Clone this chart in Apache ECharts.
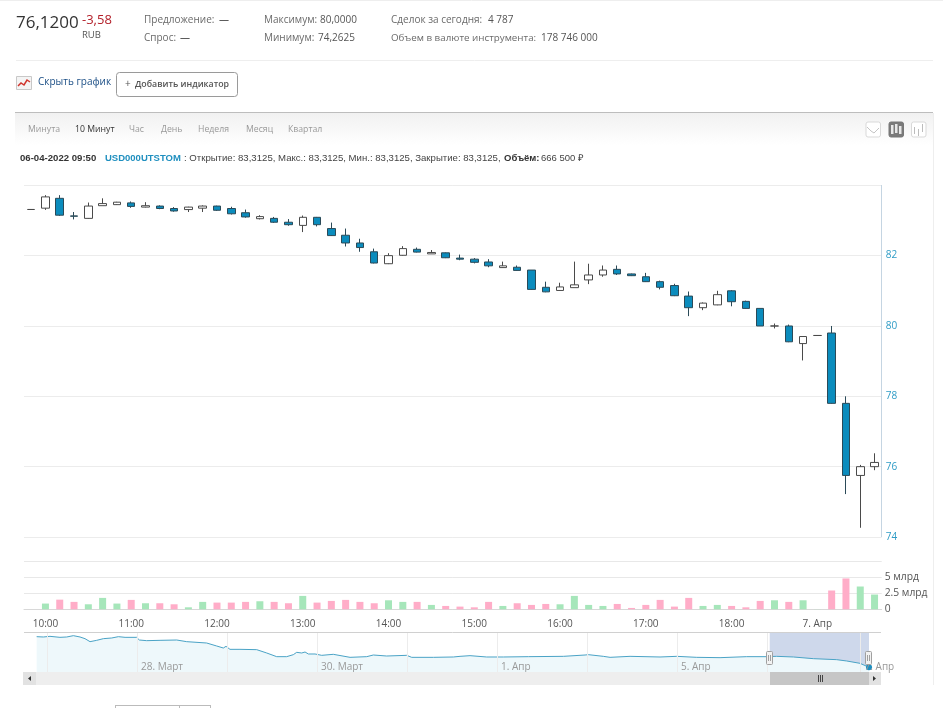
<!DOCTYPE html>
<html>
<head>
<meta charset="utf-8">
<style>html,body{margin:0;padding:0;background:#fff}#chart{width:943px;height:708px}</style>
<script src="https://cdn.jsdelivr.net/npm/echarts@6/dist/echarts.min.js"></script>
</head>
<body>
<div id="chart"></div>
<script>
// 10-minute candles for USD000UTSTOM, 6-7 April 2022
const times = ['09:50','10:00','10:10','10:20','10:30','10:40','10:50','11:00','11:10','11:20','11:30','11:40','11:50','12:00','12:10','12:20','12:30','12:40','12:50','13:00','13:10','13:20','13:30','13:40','13:50','14:00','14:10','14:20','14:30','14:40','14:50','15:00','15:10','15:20','15:30','15:40','15:50','16:00','16:10','16:20','16:30','16:40','16:50','17:00','17:10','17:20','17:30','17:40','17:50','18:00','18:10','18:20','18:30','18:40','18:50','7. Апр','10:00','10:10','10:20','10:30'];
const opens  = [83.3125,83.35,83.63,83.13,83.06,83.42,83.45,83.50,83.38,83.41,83.34,83.31,83.35,83.41,83.34,83.22,83.05,83.06,82.95,82.86,83.09,82.77,82.58,82.36,82.11,81.77,82.01,82.18,82.05,82.08,81.93,81.90,81.82,81.66,81.67,81.59,81.10,81.01,81.09,81.31,81.45,81.61,81.48,81.40,81.26,81.15,80.85,80.52,80.60,81.00,80.70,80.50,80.00,80.00,79.50,79.73,79.80,77.80,75.75,76.00];
const closes = [83.3125,83.67,83.15,83.12,83.41,83.48,83.52,83.40,83.42,83.34,83.27,83.38,83.41,83.29,83.19,83.10,83.11,82.95,82.88,83.09,82.88,82.57,82.36,82.23,81.79,82.00,82.20,82.10,82.09,81.94,81.90,81.81,81.71,81.71,81.58,81.04,80.97,81.11,81.17,81.45,81.59,81.48,81.43,81.26,81.10,80.86,80.52,80.65,80.89,80.69,80.50,80.00,80.00,79.55,79.70,79.73,77.80,75.75,76.00,76.12];
const lows   = [83.3125,83.30,83.13,83.03,83.05,83.42,83.44,83.36,83.37,83.32,83.25,83.24,83.24,83.27,83.17,83.08,83.03,82.93,82.85,82.67,82.83,82.56,82.26,82.11,81.78,81.76,82.00,82.09,82.05,81.93,81.87,81.78,81.67,81.65,81.57,81.03,80.96,81.00,81.09,81.19,81.40,81.45,81.42,81.25,81.04,80.85,80.28,80.45,80.59,80.56,80.49,80.00,79.93,79.54,79.02,79.73,77.79,75.22,74.2625,75.90];
const highs  = [83.3125,83.72,83.72,83.24,83.51,83.63,83.53,83.54,83.52,83.43,83.38,83.39,83.43,83.42,83.39,83.31,83.15,83.10,83.04,83.14,83.10,82.94,82.77,82.48,82.20,82.07,82.27,82.23,82.16,82.09,82.03,81.93,81.90,81.83,81.72,81.59,81.26,81.23,81.83,81.77,81.72,81.72,81.49,81.51,81.29,81.20,80.98,80.67,81.00,81.02,80.72,80.50,80.07,80.04,79.70,79.73,80.00,78.00,76.05,76.38];
// traded volume per candle, billions of roubles
const volumes = [0.0007,0.89,1.5,1.15,0.78,1.77,0.89,1.46,0.94,0.94,0.78,0.31,1.15,1.04,1.04,1.15,1.25,1.15,0.94,2.08,1.04,1.3,1.46,1.15,0.94,1.4,1.15,1.15,0.68,0.52,0.42,0.31,1.15,0.52,0.94,0.68,0.83,0.78,2.08,0.68,0.52,0.83,0.21,0.68,1.46,0.42,1.77,0.52,0.68,0.52,0.31,1.3,1.4,1.15,1.4,0.02,2.92,4.79,3.54,2.29];
const priceTicks = [74,76,78,80,82];
const volumeTicks = {0:'0',2.5:'2.5 млрд',5:'5 млрд'};

// overview strip: trading-day position and price
const navDays = [-0.115,-0.041,0.033,0.144,0.219,0.293,0.367,0.422,0.478,0.552,0.626,0.719,0.793,0.867,0.996,1.026,1.107,1.256,1.441,1.552,1.774,1.885,1.959,1.989,2.033,2.144,2.330,2.441,2.552,2.663,2.737,2.774,2.830,2.867,2.904,2.978,3.052,3.181,3.367,3.552,3.626,3.774,3.996,4.052,4.293,4.515,4.589,4.70,4.885,5.070,5.348,5.737,5.978,6.015,6.181,6.256,6.478,6.811,6.996,7.219,7.478,7.774,7.996,8.107,8.293,8.515,8.774,8.885,9.033,9.133];
const navPrices = [96.41,96.19,96.63,95.97,96.19,97.07,96.19,95.08,93.10,93.98,95.08,95.53,96.41,95.97,95.97,94.20,93.76,93.98,94.20,93.10,92.21,90.23,88.90,90.00,88.02,88.02,87.80,85.59,83.16,83.16,84.48,86.03,85.59,86.25,84.93,84.93,84.04,84.71,82.72,83.16,84.26,83.60,84.04,82.72,82.72,82.94,83.38,83.82,82.94,82.94,83.16,83.38,84.26,84.48,83.38,82.72,83.38,82.94,83.38,82.72,82.50,83.16,83.16,83.38,82.94,81.83,81.17,80.29,78.74,76.12];
const navTickDays = [0,1,2,3,4,5,6,7,8,9.04];
const navTickNames = {1:'28. Март',3:'30. Март',5:'1. Апр',7:'5. Апр',9:'7. Апр'};
const navSelection = [8.03,9.133];

const FONT = '"Open Sans", sans-serif';
const ARIAL = '"Liberation Sans", sans-serif';
const txt = (x, y, text, size, fill, extra) => ({
  type: 'text', x, y, silent: true, z: 20,
  style: Object.assign({text, fontSize: size, fontFamily: FONT, fill, textVerticalAlign: 'middle'}, extra || {})
});
const rect = (x, y, width, height, fill, extra, r) => ({
  type: 'rect', silent: true, z: (extra && extra.z) || 15,
  shape: {x, y, width, height, r: r || 0},
  style: Object.assign({fill}, extra || {})
});
const line = (x1, y1, x2, y2, stroke, w) => ({
  type: 'line', silent: true, z: 16,
  shape: {x1, y1, x2, y2}, style: {stroke, lineWidth: w || 1}
});
const poly = (points, stroke, w) => ({
  type: 'polyline', silent: true, z: 17,
  shape: {points}, style: {stroke, lineWidth: w || 1, fill: 'none'}
});

const handle = x => [
  rect(x - 3.5, 651.5, 6, 13, '#f2f2f2', {stroke: '#a0a0a0', lineWidth: 1, z: 18}, 1),
  {type:'line', silent:true, z:19, shape:{x1:x-1.5,y1:655,x2:x-1.5,y2:661}, style:{stroke:'#a0a0a0'}},
  {type:'line', silent:true, z:19, shape:{x1:x+0.5,y1:655,x2:x+0.5,y2:661}, style:{stroke:'#a0a0a0'}}
];

const furniture = [
  // summary rules
  line(0, 0.5, 943, 0.5, '#eeeeee'),
  line(16, 60.5, 933, 60.5, '#eeeeee'),
  // quote summary
  txt(16, 23, '76,1200', 17, '#333333'),
  txt(82, 20, '-3,58', 13, '#b3202a'),
  txt(82, 35, 'RUB', 9.5, '#555555'),
  txt(144, 20, 'Предложение:', 10, '#6a6a6a'),
  txt(219, 20, '—', 10, '#333333'),
  txt(144, 38, 'Спрос:', 10, '#6a6a6a'),
  txt(180, 38, '—', 10, '#333333'),
  txt(264, 20, 'Максимум:', 10, '#6a6a6a'),
  txt(320, 20, '80,0000', 10, '#555555'),
  txt(264, 38, 'Минимум:', 10, '#6a6a6a'),
  txt(318, 38, '74,2625', 10, '#555555'),
  txt(391, 20, 'Сделок за сегодня:', 10, '#6a6a6a'),
  txt(488, 20, '4 787', 10, '#555555'),
  txt(391, 38, 'Объем в валюте инструмента:', 9.8, '#6a6a6a'),
  txt(541, 38, '178 746 000', 10, '#555555'),
  // hide-chart link with its icon
  rect(16.5, 76.5, 15, 13, '#f4f4f4', {stroke: '#c8c8c8', lineWidth: 1}),
  poly([[18,86],[21,83],[24,85],[27,80],[30,82]], '#d0342c', 1.5),
  txt(38, 82, 'Скрыть график', 10, '#1c4f86'),
  rect(116.5, 72.5, 121, 24, '#ffffff', {stroke: '#9a9a9a', lineWidth: 1}, 3),
  txt(125, 84, '+', 10, '#555555'),
  txt(135, 84, 'Добавить индикатор', 8.8, '#555555', {fontWeight: 600}),
  // period bar
  rect(15, 113, 918, 32, new echarts.graphic.LinearGradient(0, 0, 0, 1, [{offset: 0, color: '#f1f1f1'}, {offset: 1, color: '#ffffff'}]), {z: 5}),
  line(15, 112.5, 933, 112.5, '#bdbdbd'),
  line(933.5, 113, 933.5, 685, '#eeeeee'),
  txt(28, 129.5, 'Минута', 8.7, '#999999'),
  txt(75, 129.5, '10 Минут', 8.7, '#333333'),
  txt(129, 129.5, 'Час', 8.7, '#999999'),
  txt(161, 129.5, 'День', 8.7, '#999999'),
  txt(198, 129.5, 'Неделя', 8.7, '#999999'),
  txt(246, 129.5, 'Месяц', 8.7, '#999999'),
  txt(288, 129.5, 'Квартал', 8.7, '#999999'),
  // chart-type switch
  rect(866, 122, 14.5, 15, '#ffffff', {stroke: '#d9d9d9', lineWidth: 1}, 2),
  poly([[867,127],[871,131],[874,133],[879,128]], '#c4c4c4'),
  rect(889, 122, 14.5, 15, '#7a7a7a', {stroke: '#777777', lineWidth: 1}, 2),
  rect(891, 125, 2.5, 9, '#e8e8e8'), rect(895, 124, 2.5, 9, '#e8e8e8'), rect(899, 126, 2.5, 8, '#e8e8e8'),
  rect(911.5, 122, 14.5, 15, '#ffffff', {stroke: '#d9d9d9', lineWidth: 1}, 2),
  line(914.5, 127, 914.5, 134, '#bcbcbc'), line(918.5, 129, 918.5, 136, '#bcbcbc'), line(922.5, 124, 922.5, 132, '#bcbcbc'),
  // crosshair readout of the first candle
  txt(20, 158, '06-04-2022 09:50', 9.6, '#333333', {fontWeight: 'bold', fontFamily: ARIAL}),
  txt(105, 158, 'USD000UTSTOM', 9.5, '#1f8fbf', {fontWeight: 'bold', fontFamily: ARIAL}),
  txt(184, 158, ': Открытие: 83,3125, Макс.: 83,3125, Мин.: 83,3125, Закрытие: 83,3125,', 9.6, '#444444', {fontFamily: ARIAL}),
  txt(504, 158, 'Объём:', 9.5, '#333333', {fontWeight: 'bold', fontFamily: ARIAL}),
  txt(541, 158, '666 500 ₽', 9.5, '#444444', {fontFamily: ARIAL}),
  // price axis spine and lower time-axis rule
  line(881.5, 185, 881.5, 537, '#c5d5e2'),
  line(24, 632.5, 881, 632.5, '#d0d0d0'),
  // scrollbar below the overview
  rect(23, 672, 858, 13, '#eeeeee'),
  rect(23, 672, 13, 13, '#e2e2e2'),
  rect(869, 672, 12, 13, '#e2e2e2'),
  rect(770, 672, 99, 13, '#c6c6c6'),
  {type:'polygon', silent:true, z:18, shape:{points:[[31,676],[28,678.5],[31,681]]}, style:{fill:'#333333'}},
  {type:'polygon', silent:true, z:18, shape:{points:[[873,676],[876,678.5],[873,681]]}, style:{fill:'#333333'}},
  line(818.5, 675, 818.5, 682, '#444444'), line(820.5, 675, 820.5, 682, '#444444'), line(822.5, 675, 822.5, 682, '#444444'),
  ...handle(770), ...handle(869),
  // edge of the form below the chart
  line(115, 705.5, 211, 705.5, '#bbbbbb'),
  line(115.5, 705, 115.5, 708, '#bbbbbb'),
  line(179.5, 705, 179.5, 708, '#bbbbbb'),
  line(210.5, 705, 210.5, 708, '#bbbbbb')
];

const LEFT = 24, WIDTH = 857.7;
const hourlyLabel = i => (i - 1) % 6 === 0;

const option = {
  animation: false,
  backgroundColor: '#ffffff',
  textStyle: {fontFamily: FONT},
  graphic: furniture,
  grid: [
    {left: LEFT, width: WIDTH, top: 185.3, height: 351.7},
    {left: LEFT, width: WIDTH, top: 561, height: 48.3},
    {left: LEFT, width: WIDTH, top: 632, height: 40}
  ],
  xAxis: [
    {type: 'category', gridIndex: 0, data: times, show: false},
    {
      type: 'category', gridIndex: 1, data: times, offset: 4,
      axisLine: {lineStyle: {color: '#d8d8d8'}},
      axisTick: {alignWithLabel: true, interval: hourlyLabel, length: 4, lineStyle: {color: '#c8c8c8'}},
      axisLabel: {interval: hourlyLabel, color: '#555555', fontSize: 10, margin: 6, hideOverlap: false},
      splitLine: {show: false}
    },
    {
      type: 'value', gridIndex: 2, min: -0.2556, max: 9.274, z: 6,
      axisLine: {show: false},
      axisTick: {show: false, customValues: navTickDays},
      splitLine: {show: true, lineStyle: {color: '#ececec'}},
      axisLabel: {
        inside: true, customValues: navTickDays, color: '#999999', fontSize: 10, align: 'left',
        margin: 0, padding: [0, 0, 0, 4], showMinLabel: true, showMaxLabel: true,
        formatter: v => navTickNames[Math.round(v)] || ''
      }
    }
  ],
  yAxis: [
    {
      type: 'value', gridIndex: 0, position: 'right', min: 74, max: 84, interval: 2,
      axisLine: {show: false}, axisTick: {show: false},
      splitLine: {lineStyle: {color: '#ececec'}},
      axisLabel: {color: '#2f9cc6', fontSize: 10, margin: 4, formatter: v => priceTicks.includes(v) ? String(v) : ''}
    },
    {
      type: 'value', gridIndex: 1, position: 'right', min: 0, max: 7.5, interval: 2.5,
      axisLine: {show: false}, axisTick: {show: false},
      splitLine: {lineStyle: {color: '#e8e8e8'}},
      axisLabel: {color: '#555555', fontSize: 10.3, margin: 3, formatter: v => volumeTicks[v] || ''}
    },
    {type: 'value', gridIndex: 2, min: 73, max: 99.5, show: false}
  ],
  series: [
    {
      type: 'candlestick', xAxisIndex: 0, yAxisIndex: 0, barWidth: 8,
      data: times.map((_, i) => [opens[i], closes[i], lows[i], highs[i]]),
      itemStyle: {color: '#ffffff', color0: '#0b8cbd', borderColor: '#4a4a4a', borderColor0: '#2b4a58', borderWidth: 1}
    },
    {
      type: 'bar', xAxisIndex: 1, yAxisIndex: 1, barWidth: 7,
      data: volumes,
      itemStyle: {color: p => closes[p.dataIndex] >= opens[p.dataIndex] ? '#a6e6ba' : '#ffadc8'}
    },
    {
      type: 'line', xAxisIndex: 2, yAxisIndex: 2,
      data: navDays.map((d, i) => [d, navPrices[i]]),
      symbol: 'circle', showAllSymbol: true,
      symbolSize: (v, p) => p.dataIndex === navDays.length - 1 ? 6 : 0,
      itemStyle: {color: '#1f8fc0'},
      lineStyle: {color: '#4aa3c6', width: 1},
      areaStyle: {color: '#eef8fb', opacity: 1},
      markArea: {
        silent: true,
        itemStyle: {color: 'rgba(51,92,173,0.24)'},
        data: [[{xAxis: navSelection[0]}, {xAxis: navSelection[1]}]]
      }
    }
  ]
};

echarts.init(document.getElementById('chart')).setOption(option);
</script>
</body>
</html>
